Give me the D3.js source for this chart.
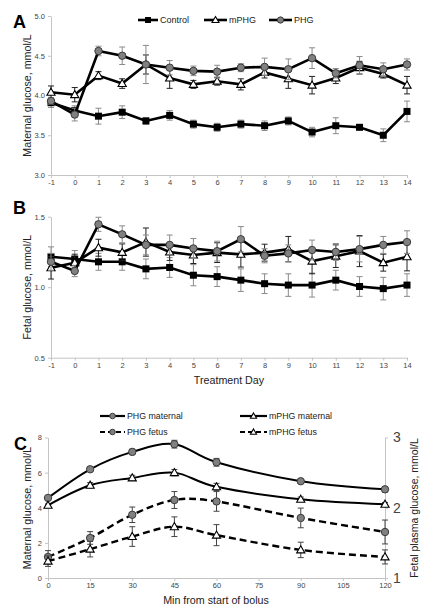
<!DOCTYPE html>
<html><head><meta charset="utf-8">
<script src="https://cdn.jsdelivr.net/npm/d3@7/dist/d3.min.js"></script>
<style>body{margin:0;background:#fff} svg{display:block;font-family:"Liberation Sans",Arial,sans-serif}</style>
</head><body><svg id="c" width="430" height="614"></svg>
<script>
// ---------- DATA ----------
const days = [-1,0,1,2,3,4,5,6,7,8,9,10,11,12,13,14];
// Panel A: maternal glucose (mmol/L)
const aControl    = [3.91,3.81,3.74,3.79,3.68,3.75,3.64,3.60,3.64,3.62,3.68,3.54,3.62,3.60,3.50,3.80];
const aControlErr = [0.06,0.06,0.10,0.08,0.04,0.06,0.05,0.05,0.05,0.06,0.05,0.06,0.10,0.03,0.08,0.13];
const aMPHG       = [4.04,4.01,4.25,4.15,4.39,4.22,4.14,4.18,4.14,4.29,4.21,4.13,4.22,4.35,4.27,4.13];
const aMPHGErr    = [0.08,0.09,0.05,0.06,0.12,0.13,0.05,0.05,0.07,0.07,0.12,0.11,0.07,0.08,0.05,0.11];
const aPHG        = [3.93,3.76,4.56,4.50,4.39,4.35,4.31,4.30,4.35,4.36,4.33,4.47,4.28,4.38,4.33,4.39];
const aPHGErr     = [0.04,0.08,0.06,0.11,0.24,0.09,0.06,0.08,0.05,0.11,0.13,0.13,0.06,0.11,0.08,0.07];
const aTicks = [3.0,3.5,4.0,4.5,5.0];
// Panel B: fetal glucose (mmol/L)
const bControl    = [1.216,1.20,1.18,1.18,1.13,1.14,1.085,1.075,1.05,1.025,1.015,1.015,1.05,1.005,0.99,1.015];
const bControlErr = [0.07,0.06,0.06,0.06,0.07,0.07,0.075,0.07,0.08,0.07,0.08,0.085,0.07,0.07,0.08,0.08];
const bMPHG       = [1.138,1.174,1.28,1.247,1.32,1.25,1.228,1.245,1.233,1.245,1.27,1.185,1.22,1.256,1.174,1.216];
const bMPHGErr    = [0.08,0.06,0.06,0.06,0.10,0.06,0.06,0.07,0.09,0.06,0.09,0.09,0.08,0.11,0.06,0.10];
const bPHG        = [1.18,1.115,1.446,1.375,1.30,1.30,1.275,1.256,1.34,1.223,1.24,1.264,1.25,1.27,1.30,1.32];
const bPHGErr     = [0.06,0.04,0.05,0.06,0.07,0.07,0.07,0.07,0.09,0.05,0.06,0.07,0.06,0.09,0.06,0.08];
const bTicks = [0.5,1.0,1.5];
// Panel C: bolus time course
const minutes = [0,15,30,45,60,90,120];
const cPHGMat     = [4.56,6.19,7.18,7.62,6.59,5.51,5.05];
const cPHGMatErr  = [0.10,0.12,0.15,0.22,0.22,0.08,0.15];
const cMPHGMat    = [4.14,5.28,5.70,6.00,5.19,4.48,4.20];
const cMPHGMatErr = [0.07,0.15,0.15,0.18,0.20,0.13,0.10];
const cPHGFet     = [1.30,1.57,1.90,2.11,2.09,1.855,1.655];
const cPHGFetErr  = [0.09,0.09,0.11,0.12,0.14,0.14,0.17];
const cMPHGFet    = [1.24,1.41,1.59,1.73,1.61,1.40,1.30];
const cMPHGFetErr = [0.075,0.11,0.14,0.14,0.15,0.11,0.10];
const cXTicks = [0,15,30,45,60,75,90,105,120];
const cLeftTicks = [0,2,4,6,8];
const cRightTicks = [1,2,3];

// ---------- HELPERS ----------
const svg = d3.select("#c");
const AXC = "#c4c4c4", TXT = "#444";
function styleAxis(g, fs){
  g.select(".domain").attr("stroke", AXC);
  g.selectAll(".tick line").attr("stroke", AXC);
  g.selectAll(".tick text").attr("fill", TXT).style("font-size", fs+"px").style("font-family","Liberation Sans, Arial, sans-serif");
}
function marker(g, type, x, y, s){
  if(type==="square"){
    g.append("rect").attr("x",x-s*3.5).attr("y",y-s*3.5).attr("width",s*7).attr("height",s*7).attr("fill","#000");
  } else if(type==="circle"){
    g.append("circle").attr("cx",x).attr("cy",y).attr("r",s*3.7).attr("fill","#808080").attr("stroke","#3a3a3a").attr("stroke-width",1);
  } else {
    g.append("path").attr("transform",`translate(${x},${y+0.6*s})`)
      .attr("d", d3.symbol(d3.symbolTriangle, 29*s*s)())
      .attr("fill","#fff").attr("stroke","#000").attr("stroke-width",1.1);
  }
}
function drawSeries(g, xs, vals, errs, type, opts){
  const pts = xs.map((x,i)=>[x, vals[i]]);
  const eg = g.append("g");
  pts.forEach((p,i)=>{
    const cx = opts.x(p[0]);
    const y1 = opts.y(p[1]-errs[i]), y2 = opts.y(p[1]+errs[i]);
    eg.append("line").attr("x1",cx).attr("x2",cx).attr("y1",y1).attr("y2",y2).attr("stroke",opts.errColor).attr("stroke-width",1);
    [y1,y2].forEach(yy=> eg.append("line").attr("x1",cx-3).attr("x2",cx+3).attr("y1",yy).attr("y2",yy).attr("stroke",opts.errColor).attr("stroke-width",1));
  });
  const line = d3.line().x(d=>opts.x(d[0])).y(d=>opts.y(d[1]));
  if(opts.curve) line.curve(opts.curve);
  g.append("path").attr("d", line(pts)).attr("fill","none").attr("stroke","#000")
    .attr("stroke-width", opts.lw).attr("stroke-dasharray", opts.dash||null);
  const mg = g.append("g");
  pts.forEach(p=> marker(mg, type, opts.x(p[0]), opts.y(p[1]), opts.ms||1));
}

// ---------- PANEL A & B ----------
const xDay = d3.scalePoint().domain(days).range([51, 407]);
function dayPanel(yScale, ticks, ctrl, ctrlE, mp, mpE, ph, phE, title, letter, letterY){
  const g = svg.append("g");
  g.append("g").attr("transform",`translate(0,${yScale.range()[0]})`)
    .call(d3.axisBottom(xDay).tickSize(3).tickSizeOuter(0).tickPadding(2)).call(a=>styleAxis(a,7.5));
  g.append("g").attr("transform",`translate(51,0)`)
    .call(d3.axisLeft(yScale).tickValues(ticks).tickFormat(d3.format(".1f")).tickSize(3).tickSizeOuter(0).tickPadding(3)).call(a=>styleAxis(a,7.5));
  const cy = (yScale.range()[0]+yScale.range()[1])/2;
  g.append("text").attr("transform",`translate(27,${cy}) rotate(-90)`).attr("text-anchor","middle")
    .attr("dy","0.35em").style("font-size","10.7px").attr("fill","#222").text(title);
  g.append("text").attr("x",13).attr("y",letterY).style("font-size","18px").style("font-weight","bold").text(letter);
  const o = {x:xDay, y:yScale, lw:2.6};
  drawSeries(g, days, ctrl, ctrlE, "square", {...o, errColor:"#8a8a8a"});
  drawSeries(g, days, mp, mpE, "triangle", {...o, errColor:"#222"});
  drawSeries(g, days, ph, phE, "circle", {...o, errColor:"#8a8a8a"});
  return g;
}
const yA = d3.scaleLinear().domain([3,5]).range([175,16]);
dayPanel(yA, aTicks, aControl, aControlErr, aMPHG, aMPHGErr, aPHG, aPHGErr, "Maternal glucose, mmol/L", "A", 28);
const yB = d3.scaleLinear().domain([0.5,1.5]).range([357.7,216.7]);
dayPanel(yB, bTicks, bControl, bControlErr, bMPHG, bMPHGErr, bPHG, bPHGErr, "Fetal glucose, mmol/L", "B", 214);
svg.append("text").attr("x",229).attr("y",384).attr("text-anchor","middle").style("font-size","10.7px").attr("fill","#222").text("Treatment Day");

// Legend A
const legA = svg.append("g");
[["Control","square",138,158],["mPHG","triangle",204,227],["PHG","circle",269,292]].forEach(([t,ty,x1,x2])=>{
  legA.append("line").attr("x1",x1).attr("x2",x2).attr("y1",20).attr("y2",20).attr("stroke","#000").attr("stroke-width",2.6);
  marker(legA, ty, (x1+x2)/2, 20, 0.85);
  legA.append("text").attr("x",x2+2).attr("y",20).attr("dy","0.35em").style("font-size","9px").attr("fill","#222").text(t);
});

// ---------- PANEL C ----------
const xC = d3.scaleLinear().domain([0,120]).range([48,385]);
const yCL = d3.scaleLinear().domain([0,8]).range([578,437.5]);
const yCR = d3.scaleLinear().domain([1,3]).range([578,437.5]);
const gC = svg.append("g");
gC.append("g").attr("transform","translate(0,578)")
  .call(d3.axisBottom(xC).tickValues(cXTicks).tickSize(3).tickSizeOuter(0).tickPadding(2)).call(a=>styleAxis(a,7.5));
gC.append("g").attr("transform","translate(48,0)")
  .call(d3.axisLeft(yCL).tickValues(cLeftTicks).tickSize(3).tickSizeOuter(0).tickPadding(3)).call(a=>styleAxis(a,7.5));
gC.append("g").attr("transform","translate(385,0)")
  .call(d3.axisRight(yCR).tickValues(cRightTicks).tickFormat(d3.format("d")).tickSize(3).tickSizeOuter(0).tickPadding(5)).call(a=>styleAxis(a,14));
gC.append("text").attr("transform","translate(27,508) rotate(-90)").attr("text-anchor","middle").attr("dy","0.35em")
  .style("font-size","10.7px").attr("fill","#222").text("Maternal glucose, mmol/L");
gC.append("text").attr("transform","translate(414,508) rotate(-90)").attr("text-anchor","middle").attr("dy","0.35em")
  .style("font-size","10.5px").attr("fill","#222").text("Fetal plasma glucose, mmol/L");
gC.append("text").attr("x",216).attr("y",604).attr("text-anchor","middle").style("font-size","10.7px").attr("fill","#222").text("Min from start of bolus");
gC.append("text").attr("x",14).attr("y",450).style("font-size","18px").style("font-weight","bold").text("C");
const smooth = d3.curveCatmullRom.alpha(0);
drawSeries(gC, minutes, cPHGMat, cPHGMatErr, "circle", {x:xC, y:yCL, lw:2, curve:smooth, errColor:"#444"});
drawSeries(gC, minutes, cMPHGMat, cMPHGMatErr, "triangle", {x:xC, y:yCL, lw:2, curve:smooth, errColor:"#444"});
drawSeries(gC, minutes, cPHGFet, cPHGFetErr, "circle", {x:xC, y:yCR, lw:2.4, curve:smooth, dash:"7,4", errColor:"#444"});
drawSeries(gC, minutes, cMPHGFet, cMPHGFetErr, "triangle", {x:xC, y:yCR, lw:2.4, curve:smooth, dash:"7,4", errColor:"#444"});
// Legend C
const legC = svg.append("g");
[["PHG maternal","circle",100,125,416,null],["PHG fetus","circle",100,125,432,"5,3"],
 ["mPHG maternal","triangle",240,267,416,null],["mPHG fetus","triangle",240,267,432,"5,3"]].forEach(([t,ty,x1,x2,y,d])=>{
  legC.append("line").attr("x1",x1).attr("x2",x2).attr("y1",y).attr("y2",y).attr("stroke","#000").attr("stroke-width",2.2).attr("stroke-dasharray",d);
  marker(legC, ty, (x1+x2)/2, y, 0.75);
  legC.append("text").attr("x",x2+2).attr("y",y).attr("dy","0.35em").style("font-size","8.8px").attr("fill","#222").text(t);
});
</script></body></html>
